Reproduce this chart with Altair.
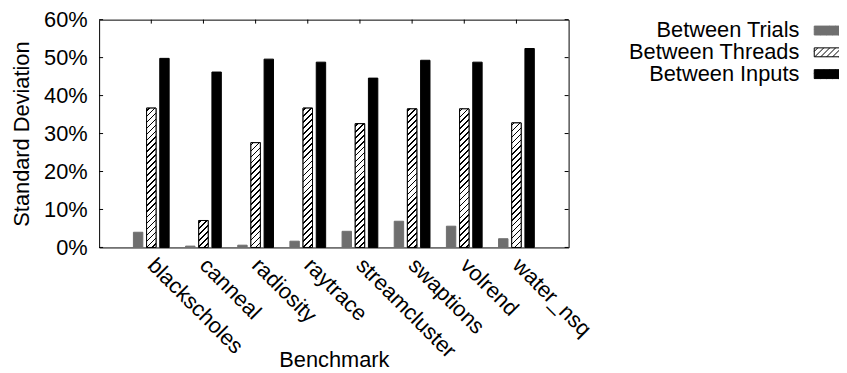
import altair as alt
import pandas as pd

# ---------------- data ----------------
benchmarks = ["blackscholes", "canneal", "radiosity", "raytrace",
              "streamcluster", "swaptions", "volrend", "water_nsq"]
series_names = ["Between Trials", "Between Threads", "Between Inputs"]
between_trials = [4.0, 0.35, 0.6, 1.65, 4.25, 6.9, 5.6, 2.3]
between_threads = [36.7, 7.1, 27.6, 36.7, 32.6, 36.5, 36.5, 32.8]
between_inputs = [49.8, 46.2, 49.6, 48.8, 44.6, 49.3, 48.8, 52.4]
y_ticks = [0, 10, 20, 30, 40, 50, 60]

rows = []
for i, b in enumerate(benchmarks):
    for s, vals in zip(series_names, [between_trials, between_threads, between_inputs]):
        rows.append({"bench": b, "series": s, "value": vals[i]})
df = pd.DataFrame(rows)
ticks_df = pd.DataFrame({"value": y_ticks})
bench_df = pd.DataFrame({"bench": benchmarks})

# ---------------- styles ----------------
FONT = "Liberation Sans"
FS = 22
W, H = 474, 230
Y_MAX = 60
GRAY = "#6f6f6f"
BAR_W = 9.5
PAD_IN = 1 - BAR_W / 13.3
PAD_OUT = (W / 9 / 13.3 - 3 + PAD_IN) / 2


def hatch_gradient(w, h, period=6.0, line=1.7, phase=2.5):
    k = h / w
    gx = (1 + k) / (1 + k * k)
    gy = k * gx
    total = w + h
    stops = [alt.GradientStop(offset=0, color="white")]
    c = phase
    while c - line / 2 < total:
        a = max(0.0, (c - line / 2) / total)
        b = min(1.0, (c + line / 2) / total)
        stops += [alt.GradientStop(offset=a, color="white"),
                  alt.GradientStop(offset=a, color="black"),
                  alt.GradientStop(offset=b, color="black"),
                  alt.GradientStop(offset=b, color="white")]
        c += period
    stops.append(alt.GradientStop(offset=1, color="white"))
    return alt.LinearGradient(gradient="linear", x1=0, y1=0, x2=gx, y2=gy, stops=stops)


def legend_hatch_path(hw=4.0, hh=1.125, period=1.5):
    # swatch path in symbol units (4 px per unit at symbolSize 64)
    parts = [f"M{-hw},{-hh}H{hw}V{hh}H{-hw}Z"]
    c = -hw - hh + period * 0.6
    while c < hw + hh:
        x0, y0 = c - hh, hh
        if x0 < -hw:
            x0, y0 = -hw, c + hw
        x1, y1 = c + hh, -hh
        if x1 > hw:
            x1, y1 = hw, c - hw
        parts.append(f"M{x0:.3f},{y0:.3f}L{x1:.3f},{y1:.3f}")
        c += period
    return "".join(parts)


x_axis = alt.Axis(title="Benchmark", labelAngle=45, labelAlign="left",
                  labelBaseline="middle", labelOffset=0, labelPadding=14,
                  ticks=False, tickSize=0, domain=False, grid=False,
                  labelOverlap=False, labelFontSize=FS, titleFontSize=FS,
                  labelFont=FONT, titleFont=FONT, labelColor="black",
                  titleColor="black", titleFontWeight="normal",
                  titleY=120, titleBaseline="alphabetic")
y_axis = alt.Axis(values=y_ticks, labelExpr="datum.value + '%'",
                  title="Standard Deviation", ticks=False, tickSize=0,
                  domain=False, grid=False, labelPadding=12,
                  labelFontSize=FS, titleFontSize=FS, labelFont=FONT,
                  titleFont=FONT, labelColor="black", titleColor="black",
                  titleFontWeight="normal", titleX=-88.5, titleY=H / 2,
                  titleBaseline="top")

x_enc = alt.X("bench:N", sort=benchmarks,
              scale=alt.Scale(domain=benchmarks, paddingInner=0, paddingOuter=0.5),
              axis=x_axis)
xoff_enc = alt.XOffset("series:N", sort=series_names,
                       scale=alt.Scale(domain=series_names, paddingInner=PAD_IN,
                                       paddingOuter=PAD_OUT))
y_enc = alt.Y("value:Q", scale=alt.Scale(domain=[0, Y_MAX], nice=False, zero=True),
              axis=y_axis)

legend = alt.Legend(title=None, orient="none", legendX=727, legendY=0,
                    direction="vertical", symbolType=legend_hatch_path(),
                    symbolSize=64, symbolStrokeWidth=1, symbolOpacity=1,
                    labelAlign="right", labelOffset=alt.ExprRef(expr="-42"),
                    symbolOffset=0,
                    labelFontSize=FS, labelFont=FONT, labelColor="black",
                    labelLimit=400, rowPadding=0, padding=0)

bars = alt.Chart(df).mark_bar(strokeWidth=1).encode(
    x=x_enc, xOffset=xoff_enc, y=y_enc,
    fill=alt.Fill("series:N", sort=series_names,
                  scale=alt.Scale(domain=series_names, range=[GRAY, "white", "black"]),
                  legend=legend),
    stroke=alt.Stroke("series:N", sort=series_names,
                      scale=alt.Scale(domain=series_names, range=[GRAY, "black", "black"]),
                      legend=legend),
)

hatch_layers = []
for b, v in zip(benchmarks, between_threads):
    h = v / Y_MAX * H
    hatch_layers.append(
        alt.Chart(df).transform_filter(
            (alt.datum.bench == b) & (alt.datum.series == "Between Threads")
        ).mark_bar(fill=hatch_gradient(BAR_W, h), stroke="black", strokeWidth=1).encode(
            x=x_enc, xOffset=xoff_enc, y=y_enc,
        )
    )

top_ticks = alt.Chart(bench_df).mark_rule(color="black", strokeWidth=1).encode(
    x=x_enc, y=alt.value(0), y2=alt.value(4))
left_ticks = alt.Chart(ticks_df).mark_rule(color="black", strokeWidth=1).encode(
    y=y_enc, x=alt.value(0), x2=alt.value(4))
right_ticks = alt.Chart(ticks_df).mark_rule(color="black", strokeWidth=1).encode(
    y=y_enc, x=alt.value(W - 4), x2=alt.value(W))

chart = alt.layer(bars, *hatch_layers, top_ticks, left_ticks, right_ticks).properties(
    width=W, height=H,
    autosize=alt.AutoSizeParams(type="none"),
    padding={"left": 92, "top": 10, "right": 273, "bottom": 125},
).configure(font=FONT, view=alt.ViewConfig(stroke="black", strokeWidth=1))

chart.save("out.html", embed_options={"renderer": "svg", "actions": False})
